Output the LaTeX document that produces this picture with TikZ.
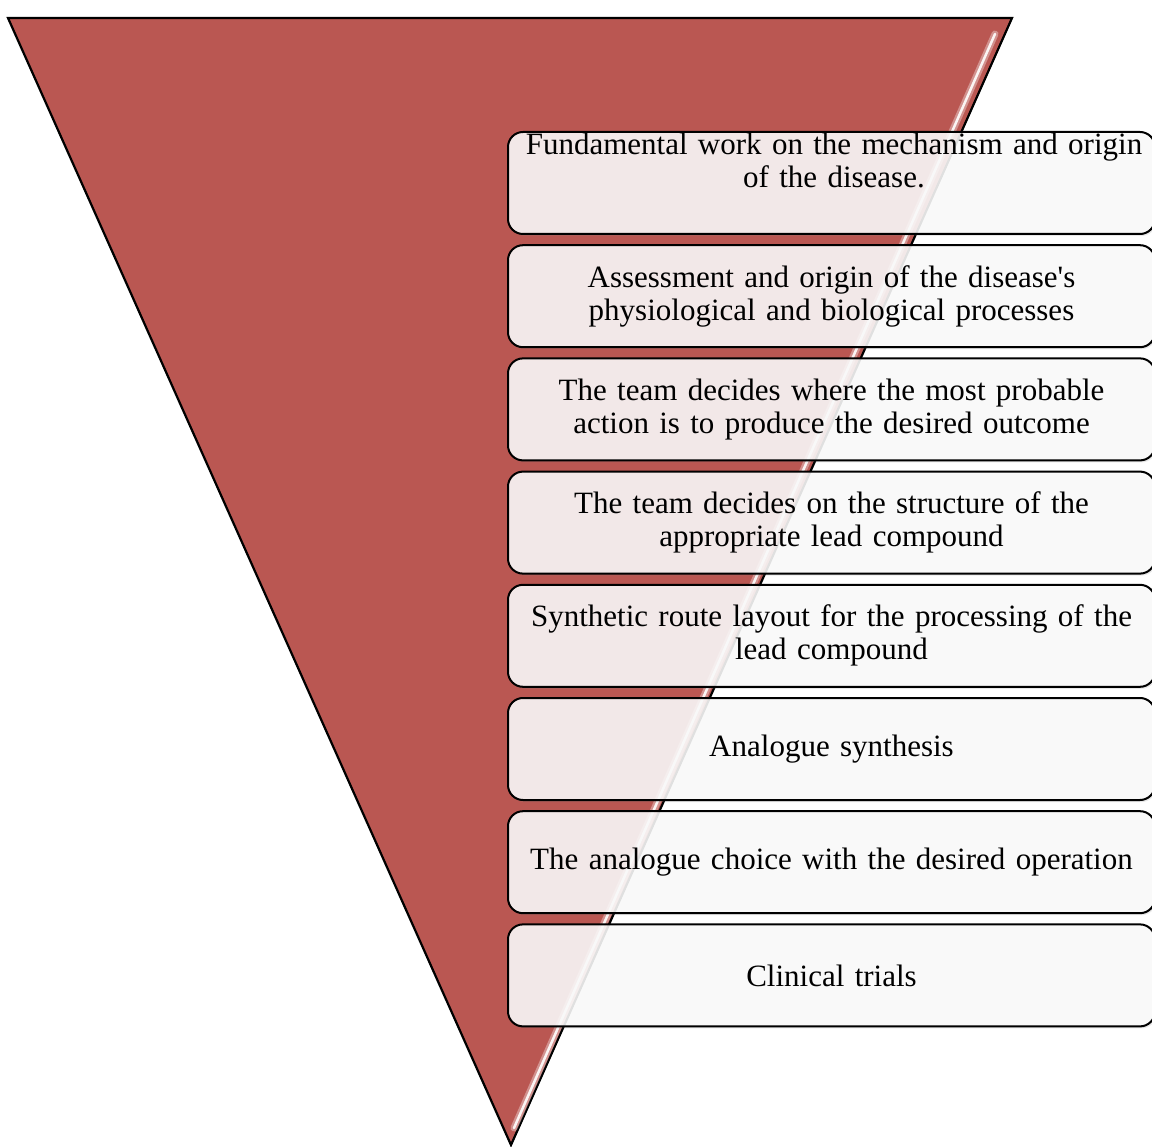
\documentclass[tikz,border=0pt]{standalone}
\usepackage{fontspec}
\setmainfont{Liberation Serif}
\usetikzlibrary{positioning}
\usetikzlibrary{shadows}
\definecolor{funnelred}{RGB}{186,87,82}

\begin{document}
\begin{tikzpicture}[
  x=1pt,y=-1pt,
  node distance=9.2pt,
  stepbox/.style={draw,line width=2pt,rounded corners=15pt,
    fill=white!99!black,fill opacity=0.88,text opacity=1,
    minimum width=647pt,minimum height=102pt,text width=625pt,align=center,
    font=\fontsize{31}{33}\selectfont,
    drop shadow={shadow xshift=1.5pt,shadow yshift=-2pt,opacity=0.18}},
  steptext/.style={text width=625pt,align=center,font=\fontsize{31}{33}\selectfont}
]
\useasboundingbox (0,0) rectangle (1152,1147);

% funnel
\draw[line width=2.2pt,fill=funnelred] (8,18) -- (1012,18) -- (511,1145) -- cycle;
\draw[white,line width=7pt,opacity=0.35,line cap=round] (995,34) -- (514,1128);
\draw[white,line width=2.5pt,opacity=0.9,line cap=round] (995,34) -- (514,1128);

% steps
\node[stepbox] (b1) at (831.5,183) {};
\node[steptext] (t1) at (834,160) {Fundamental work on the mechanism and origin\\of the disease.};
\node[stepbox,below=of b1] (b2) {Assessment and origin of the disease\textquotesingle s\\physiological and biological processes};
\node[stepbox,below=of b2] (b3) {The team decides where the most probable\\action is to produce the desired outcome};
\node[stepbox,below=of b3] (b4) {The team decides on the structure of the\\appropriate lead compound};
\node[stepbox,below=of b4] (b5) {Synthetic route layout for the processing of the\\lead compound};
\node[stepbox,below=of b5] (b6) {Analogue synthesis};
\node[stepbox,below=of b6] (b7) {The analogue choice with the desired operation};
\node[stepbox,below=of b7] (b8) {Clinical trials};
\end{tikzpicture}
\end{document}
